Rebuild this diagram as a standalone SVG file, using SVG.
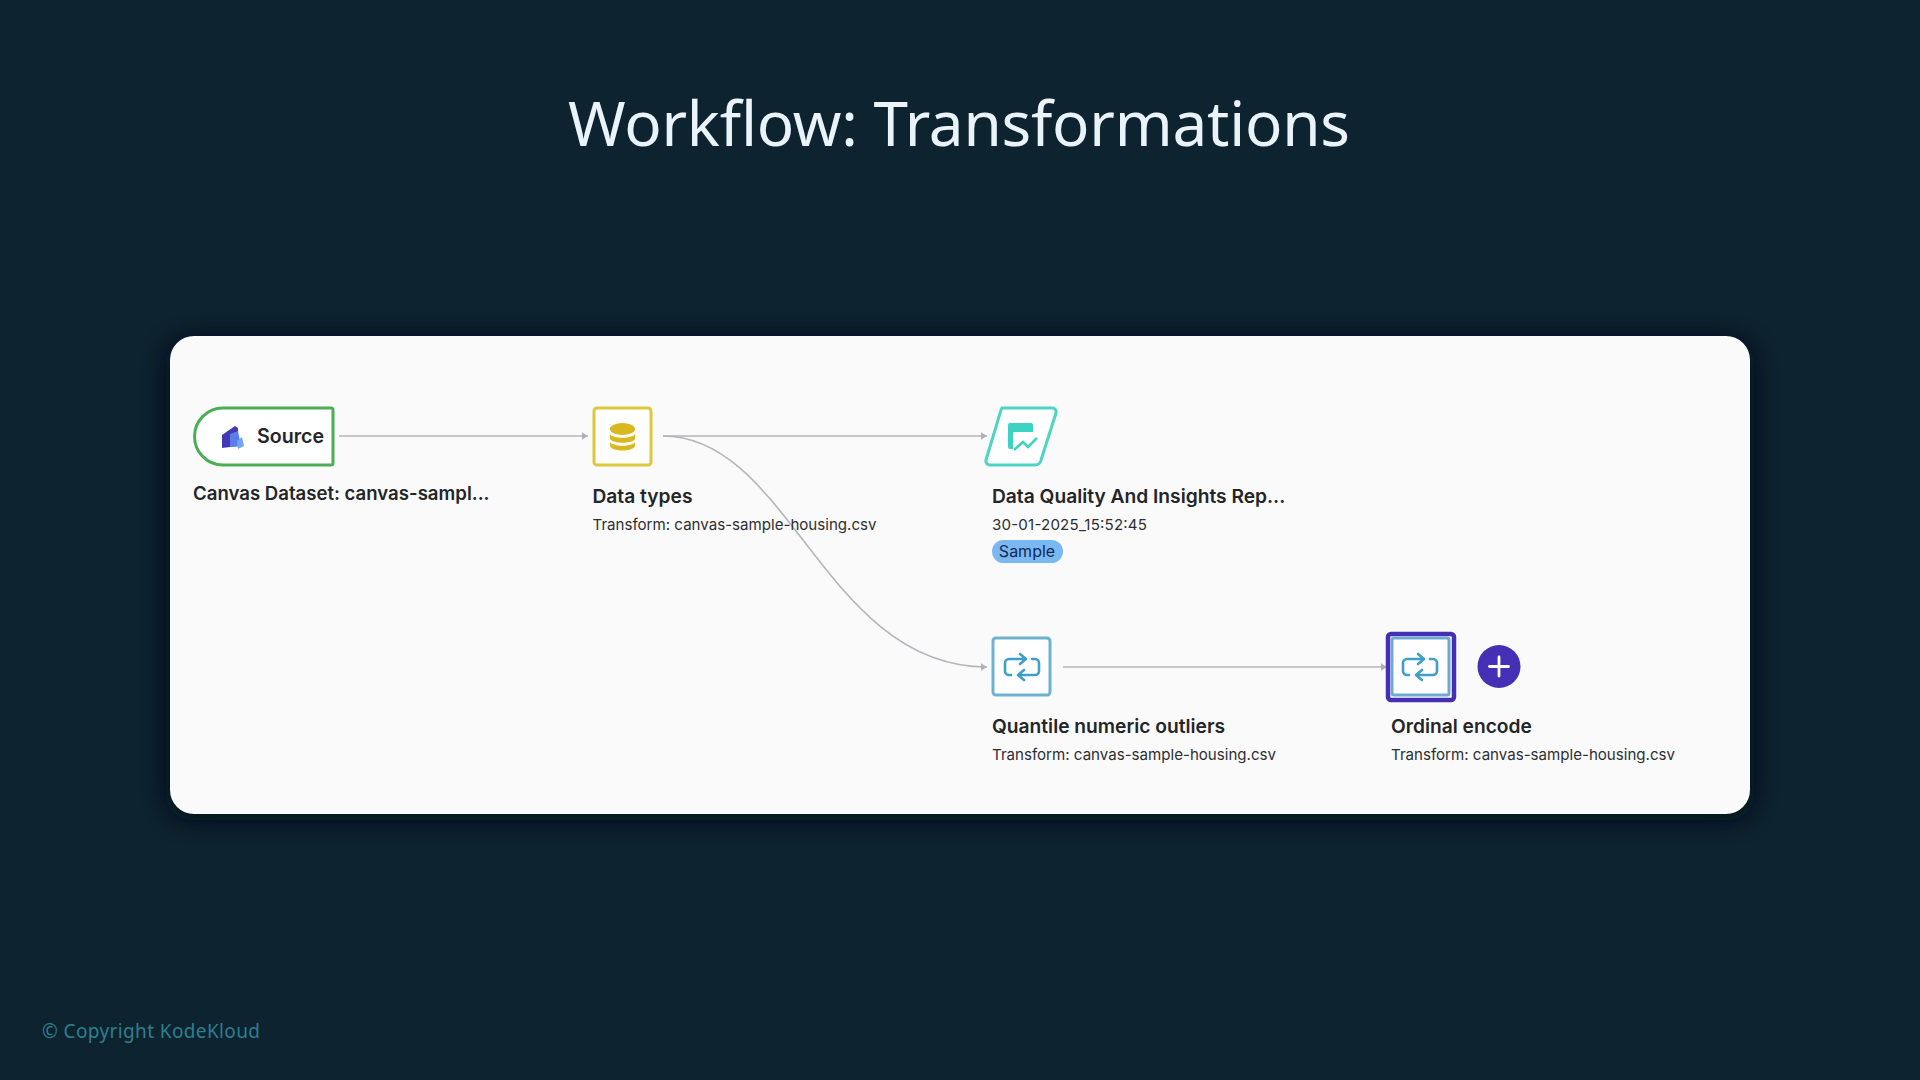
<svg xmlns="http://www.w3.org/2000/svg" width="1920" height="1080" viewBox="0 0 1920 1080">
<style>
.lbl{font-family:Inter,"Liberation Sans",sans-serif;font-weight:600;font-size:19.2px;fill:#232528}
.sub{font-family:Inter,"Liberation Sans",sans-serif;font-weight:400;font-size:15.1px;fill:#2d2f33}
.edge{fill:none;stroke:#b4b5b9;stroke-width:1.6;marker-end:url(#arr)}
.tf{fill:none;stroke:#3f9fc6;stroke-width:2.6;stroke-linecap:round;stroke-linejoin:round}
</style>
<defs>
<marker id="arr" markerUnits="userSpaceOnUse" markerWidth="8" markerHeight="10" refX="7" refY="5" orient="auto"><path d="M1 1.2L7 5L1 8.8Z" fill="#b0b1b6"/></marker>
<filter id="sh" x="-5%" y="-15%" width="110%" height="130%"><feGaussianBlur stdDeviation="12"/></filter>
<path id="tficon" class="tf" d="M1011 675H1009a4 4 0 0 1-4-4V663a4 4 0 0 1 4-4H1025M1020 654L1026 659L1020 664M1032 659H1035a4 4 0 0 1 4 4V671a4 4 0 0 1-4 4H1018M1024 670L1018 675L1024 680"/>
</defs>
<rect width="1920" height="1080" fill="#0d2330"/>
<text x="959" y="146" text-anchor="middle" textLength="782" lengthAdjust="spacing" font-family="'Noto Sans',sans-serif" font-weight="400" font-size="62" fill="#eaf2fa">Workflow: Transformations</text>
<rect x="166" y="338" width="1588" height="482" rx="26" fill="#050d13" filter="url(#sh)" opacity=".9"/>
<rect x="170" y="336" width="1580" height="478" rx="24" fill="#fafafa"/>
<g id="connectors">
<path class="edge" d="M339 436H588"/>
<path class="edge" d="M663 436H987"/>
<path class="edge" d="M663 436C790 436 825 667 987 667"/>
<path class="edge" d="M1063 667H1387"/>
</g>
<g id="source">
<path d="M228 408H331a2 2 0 0 1 2 2V463a2 2 0 0 1-2 2H223a28.500 28.500 0 0 1 0-57Z" fill="#fff" stroke="#4bae55" stroke-width="3"/>
<path d="M222 435L235 426L238 428V446L222 448Z" fill="#4338b5"/>
<path d="M230 434L238 431L241 446L230 447Z" fill="#5a7ee8"/>
<path d="M237 441L242 437L244 446L238 449Z" fill="#6ea6f0"/>
<text x="257" y="443" font-family="Inter,'Liberation Sans',sans-serif" font-weight="600" font-size="19.600" fill="#232528">Source</text>
<text x="193" y="500" font-family="Inter,'Liberation Sans',sans-serif" font-weight="600" font-size="18.600" fill="#232528">Canvas Dataset: canvas-sampl...</text>
</g>
<g id="data-types">
<rect x="594" y="408" width="57" height="57" rx="3" fill="#fff" stroke="#dcc83c" stroke-width="3"/>
<ellipse cx="622.500" cy="429" rx="12.500" ry="6" fill="#d9b81e"/>
<path d="M610 434c3 5 22 5 25 0v5c-3 5-22 5-25 0Z" fill="#d9b81e"/>
<path d="M610 442c3 5 22 5 25 0v4c-2 6-23 6-25 0Z" fill="#d9b81e"/>
<text class="lbl" x="592.500" y="502.500">Data types</text>
<text class="sub" x="592.500" y="530">Transform: canvas-sample-housing.csv</text>
</g>
<g id="data-quality">
<path d="M1002 408H1052a4 4 0 0 1 4 5L1041 460a6 6 0 0 1-6 5H990a4 4 0 0 1-4-5L1001 410Z" fill="#fff" stroke="#4dd4c4" stroke-width="3"/>
<path d="M1008 425a2 2 0 0 1 2-2H1031a2 2 0 0 1 2 2V432H1008Z" fill="#3dd3c3"/>
<path d="M1008 432H1013V449H1010a2 2 0 0 1-2-2Z" fill="#3dd3c3"/>
<path d="M1014 450L1023 442L1028 447L1037 438" fill="none" stroke="#3dd3c3" stroke-width="2.500"/>
<text class="lbl" x="992" y="502.500">Data Quality And Insights Rep...</text>
<text class="sub" x="992" y="530" textLength="155" lengthAdjust="spacing">30-01-2025_15:52:45</text>
<rect x="992" y="540" width="71" height="23" rx="11.500" fill="#7ab8f2"/>
<text x="1027" y="557" text-anchor="middle" font-family="Inter,'Liberation Sans',sans-serif" font-size="16" fill="#0f2a52">Sample</text>
</g>
<g id="quantile">
<rect x="993" y="638" width="57" height="57" rx="3" fill="#fff" stroke="#6fb2cf" stroke-width="3"/>
<use href="#tficon"/>
<text class="lbl" x="992" y="732.500">Quantile numeric outliers</text>
<text class="sub" x="992" y="760">Transform: canvas-sample-housing.csv</text>
</g>
<g id="ordinal">
<rect x="1388" y="634" width="66" height="66" rx="3" fill="#fff" stroke="#4530b5" stroke-width="4.500"/>
<rect x="1392" y="638" width="57" height="57" rx="2" fill="#fff" stroke="#6fa8d2" stroke-width="3"/>
<use href="#tficon" x="398"/>
<text class="lbl" x="1391" y="732.500">Ordinal encode</text>
<text class="sub" x="1391" y="760">Transform: canvas-sample-housing.csv</text>
</g>
<g id="add">
<circle cx="1499" cy="666.500" r="21.500" fill="#4530b5"/>
<path d="M1499 657V676M1489.500 666.500H1508.500" stroke="#fff" stroke-width="2.800" stroke-linecap="round"/>
</g>
<text x="42" y="1038" textLength="218" lengthAdjust="spacing" font-family="'Noto Sans',sans-serif" font-weight="400" font-size="19" fill="#2f7f8e">© Copyright KodeKloud</text>
</svg>
